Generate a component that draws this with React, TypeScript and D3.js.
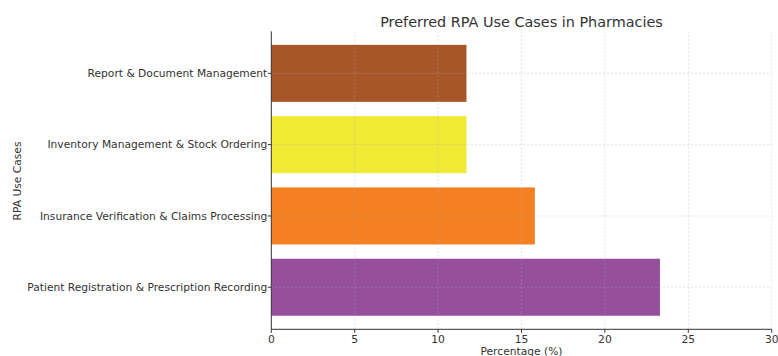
import React from "react";
import * as d3 from "d3";

// Use cases, listed from bottom to top of the chart
const categories: string[] = [
  "Patient Registration & Prescription Recording",
  "Insurance Verification & Claims Processing",
  "Inventory Management & Stock Ordering",
  "Report & Document Management",
];
const percentages: number[] = [23.3, 15.8, 11.7, 11.7];
const barColors: string[] = ["#954f9c", "#f58022", "#f0ea35", "#a65628"];
const xTicks: number[] = [0, 5, 10, 15, 20, 25, 30];

const W = 778;
const H = 356;
const left = 271.3;
const right = 771.7;
const top = 31.3;
const bottom = 329.3;
const FONT = "'DejaVu Sans', sans-serif";
const TEXT = "#333";
const FS = 10.7;

export default function App() {
  const x = d3.scaleLinear().domain([0, 30]).range([left, right]);
  // categorical axis: centers at 0..n-1, bar height 0.8, 5% margins
  const n = categories.length;
  const lo = -0.4 - 0.05 * (n - 1 + 0.8);
  const hi = n - 1 + 0.4 + 0.05 * (n - 1 + 0.8);
  const y = d3.scaleLinear().domain([lo, hi]).range([bottom, top]);
  const bh = y(0) - y(0.8);

  return (
    <svg
      width={W}
      height={H}
      style={{ position: "absolute", left: 0, top: 0, background: "#fff" }}
      fontFamily={FONT}
    >
      {/* bars */}
      {categories.map((c, i) => (
        <rect
          key={c}
          x={x(0)}
          y={y(i) - bh / 2}
          width={x(percentages[i]) - x(0)}
          height={bh}
          fill={barColors[i]}
        />
      ))}
      {/* grid */}
      <g stroke="#b0b0b0" strokeOpacity={0.45} strokeWidth={0.8} strokeDasharray="2,2">
        {xTicks.slice(1).map((t) => (
          <line key={"gx" + t} x1={x(t)} x2={x(t)} y1={top} y2={bottom} />
        ))}
        {categories.map((c, i) => (
          <line key={"gy" + c} x1={left} x2={right} y1={y(i)} y2={y(i)} />
        ))}
      </g>
      {/* spines */}
      <line x1={left} x2={left} y1={top} y2={bottom} stroke="#333" strokeWidth={1} />
      <line x1={left} x2={right} y1={bottom} y2={bottom} stroke="#333" strokeWidth={1} />
      {/* x ticks */}
      {xTicks.map((t) => (
        <g key={"xt" + t}>
          <line x1={x(t)} x2={x(t)} y1={bottom} y2={bottom + 3.5} stroke="#333" />
          <text x={x(t)} y={342.7} textAnchor="middle" fontSize={FS} fill={TEXT}>
            {t}
          </text>
        </g>
      ))}
      {/* y ticks */}
      {categories.map((c, i) => (
        <g key={"yt" + c}>
          <line x1={left - 3.5} x2={left} y1={y(i)} y2={y(i)} stroke="#333" />
          <text
            x={left - 4}
            y={y(i)}
            dy="0.35em"
            textAnchor="end"
            fontSize={FS}
            fill={TEXT}
          >
            {c}
          </text>
        </g>
      ))}
      {/* titles */}
      <text x={(left + right) / 2} y={26.5} textAnchor="middle" fontSize={14.4} fill={TEXT}>
        Preferred RPA Use Cases in Pharmacies
      </text>
      <text x={(left + right) / 2} y={354.8} textAnchor="middle" fontSize={FS} fill={TEXT}>
        Percentage (%)
      </text>
      <text
        transform={`translate(21,181) rotate(-90)`}
        textAnchor="middle"
        fontSize={FS}
        fill={TEXT}
      >
        RPA Use Cases
      </text>
    </svg>
  );
}
